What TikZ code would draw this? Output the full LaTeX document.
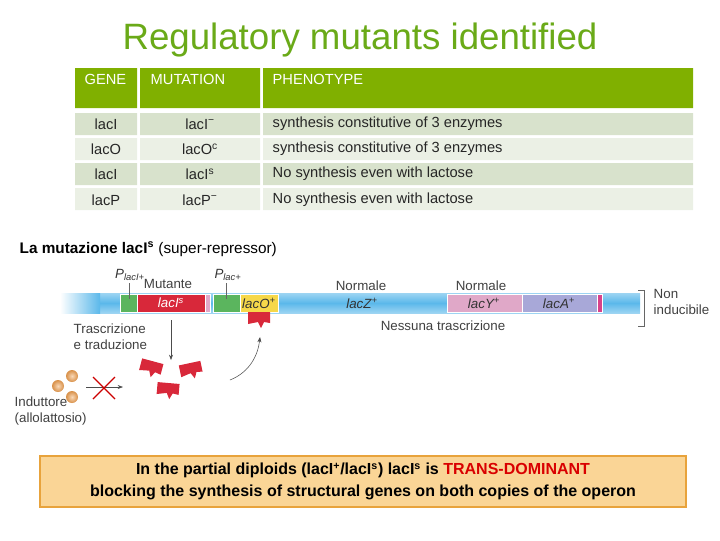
\documentclass[tikz,border=0pt]{standalone}
\usepackage{fontspec}
\setmainfont{Liberation Sans}
\usetikzlibrary{arrows.meta}
\definecolor{tgreen}{HTML}{80B000}
\definecolor{rowa}{HTML}{D8E2CC}
\definecolor{rowb}{HTML}{EBF0E5}
\definecolor{ttl}{HTML}{6AAA18}
\definecolor{rep}{HTML}{D8283A}
\definecolor{dna}{HTML}{5BB8EA}
\definecolor{gg}{HTML}{5BB55E}
\definecolor{yy}{HTML}{F6D84A}
\definecolor{pk}{HTML}{E0A8C8}
\definecolor{lv}{HTML}{A8A8D8}
\definecolor{mg}{HTML}{D8428A}
\definecolor{boxf}{HTML}{FAD596}
\definecolor{boxd}{HTML}{E8A33C}
\definecolor{ball}{HTML}{F0A050}
\begin{document}
\begin{tikzpicture}[x=0.75pt,y=-0.75pt,
  cell/.style={font=\fontsize{11}{13}\selectfont,text=black!85},
  hdr/.style={font=\fontsize{11}{13}\selectfont,text=white},
  lbl/.style={font=\fontsize{10}{12}\selectfont,text=black!75},
  gene/.style={font=\fontsize{10}{12}\selectfont\itshape,text=black!80},
  bl/.style={inner color=ball!40,outer color=ball!90!black}]
\useasboundingbox (0,0) rectangle (720,540);
\node[text=ttl,font=\fontsize{27.5}{30}\selectfont] (title) at (360,40) {Regulatory mutants identified};
% table
\fill[tgreen] (75,68) rectangle (137,108) (140,68) rectangle (260,108) (263,68) rectangle (693,108);
\foreach \y/\c in {113/rowa,138/rowb,163/rowa,188/rowb}{
  \fill[\c] (75,\y) rectangle (137,\y+22) (140,\y) rectangle (260,\y+22) (263,\y) rectangle (693,\y+22);}
\node[hdr,anchor=west] (h1) at (80,79) {GENE};
\node[hdr,anchor=west] (h2) at (146,79) {MUTATION};
\node[hdr,anchor=west] (h3) at (268,79) {PHENOTYPE};
\node[cell] (a1) at (106,124) {lacI};
\node[cell] (b1) at (200,124) {lacI\textsuperscript{−}};
\node[cell,anchor=west] (c1) at (268,124) {synthesis constitutive of 3 enzymes};
\node[cell] (a2) at (106,149) {lacO};
\node[cell] (b2) at (200,149) {lacO\textsuperscript{c}};
\node[cell,anchor=west] (c2) at (268,149) {synthesis constitutive of 3 enzymes};
\node[cell] (a3) at (106,174) {lacI};
\node[cell] (b3) at (200,174) {lacI\textsuperscript{s}};
\node[cell,anchor=west] (c3) at (268,174) {No synthesis even with lactose};
\node[cell] (a4) at (106,200) {lacP};
\node[cell] (b4) at (200,200) {lacP\textsuperscript{−}};
\node[cell,anchor=west] (c4) at (268,200) {No synthesis even with lactose};
\node[anchor=west,font=\fontsize{11.5}{13}\selectfont] (sec) at (15,249) {\textbf{La mutazione lacI\textsuperscript{s}} (super-repressor)};
% DNA bar
\shade[top color=dna!60,bottom color=dna!60,middle color=dna] (60,293) rectangle (640,313);
\shade[left color=white,right color=dna] (60,293) rectangle (100,313);
\foreach \a/\b/\c in {120/137/gg,137/205/rep,205/210/pk,213/240/gg,240/278/yy,447/522/pk,522/597/lv,597/602/mg}
  \fill[\c,draw=white,line width=0.5pt] (\a,294) rectangle (\b,312);
\node[gene,text=white] (gI) at (171,303) {lacI\textsuperscript{s}};
\node[gene] (gO) at (259,303) {lacO\textsuperscript{+}};
\node[gene] (gZ) at (362,303) {lacZ\textsuperscript{+}};
\node[gene] (gY) at (484,303) {lacY\textsuperscript{+}};
\node[gene] (gA) at (559,303) {lacA\textsuperscript{+}};
\node[gene] (p1) at (130,275) {P\textsubscript{\scriptsize lacI+}};
\node[gene] (p2) at (228,275) {P\textsubscript{\scriptsize lac+}};
\draw[black!60] (129,283) -- (129,299);
\draw[black!60] (226,283) -- (226,299);
\node[lbl] (mut) at (168,284) {Mutante};
\node[lbl] (n1) at (361,286) {Normale};
\node[lbl] (n2) at (481,286) {Normale};
\node[lbl] (nes) at (443,326) {Nessuna trascrizione};
\draw[black!60] (638,290) -- (644,290) -- (644,326) -- (638,326);
\node[lbl,anchor=west,align=left] (ni) at (649,302) {Non\\inducibile};
\node[lbl,anchor=west,align=left] (tr) at (69,337) {Trascrizione\\e traduzione};
% repressors
\foreach \n/\x/\y/\r in {r0/259/319/0,r1/151/368/-15,r2/191/370/12,r3/168/390/-5}{
  \coordinate (\n) at (\x,\y);
  \fill[rep,rotate around={\r:(\x,\y)}] (\x-11,\y-7) -- (\x+11,\y-7) -- (\x+11,\y+4) -- (\x+5,\y+3) -- (\x+2,\y+9) -- (\x-1,\y+3) -- (\x-11,\y+5) -- cycle;}
\coordinate (s1) at (171,320);
\coordinate (s2) at (171,360);
\draw[-{Stealth[length=4pt]},black!70] (s1) -- (s2);
\coordinate (c1) at (230,380);
\coordinate (c2) at (260,337);
\draw[-{Stealth[length=4pt]},black!70] (c1) .. controls (250,372) and (258,355) .. (c2);
% inducer
\shade[bl] (72,376) circle (6);
\shade[bl] (58,386) circle (6);
\shade[bl] (72,397) circle (6);
\coordinate (i1) at (86,387);
\coordinate (i2) at (123,387);
\draw[-{Stealth[length=4pt]},black!70] (i1) -- (i2);
\draw[red!80!black,line width=0.9pt] (93,377) -- (115,399) (93,399) -- (115,377);
\node[lbl,anchor=west,align=left] (ind) at (10,411) {Induttore\\(allolattosio)};
% bottom box
\node[draw=boxd,line width=1pt,fill=boxf,minimum width=646*0.75pt,minimum height=51*0.75pt,align=center,
  font=\fontsize{12}{16.5}\selectfont\bfseries] (box) at (363,481.5)
  {In the partial diploids (lacI\textsuperscript{+}/lacI\textsuperscript{s}) lacI\textsuperscript{s} is \textcolor{red!85!black}{TRANS-DOMINANT}\\
   blocking the synthesis of structural genes on both copies of the operon};
\end{tikzpicture}
\end{document}
